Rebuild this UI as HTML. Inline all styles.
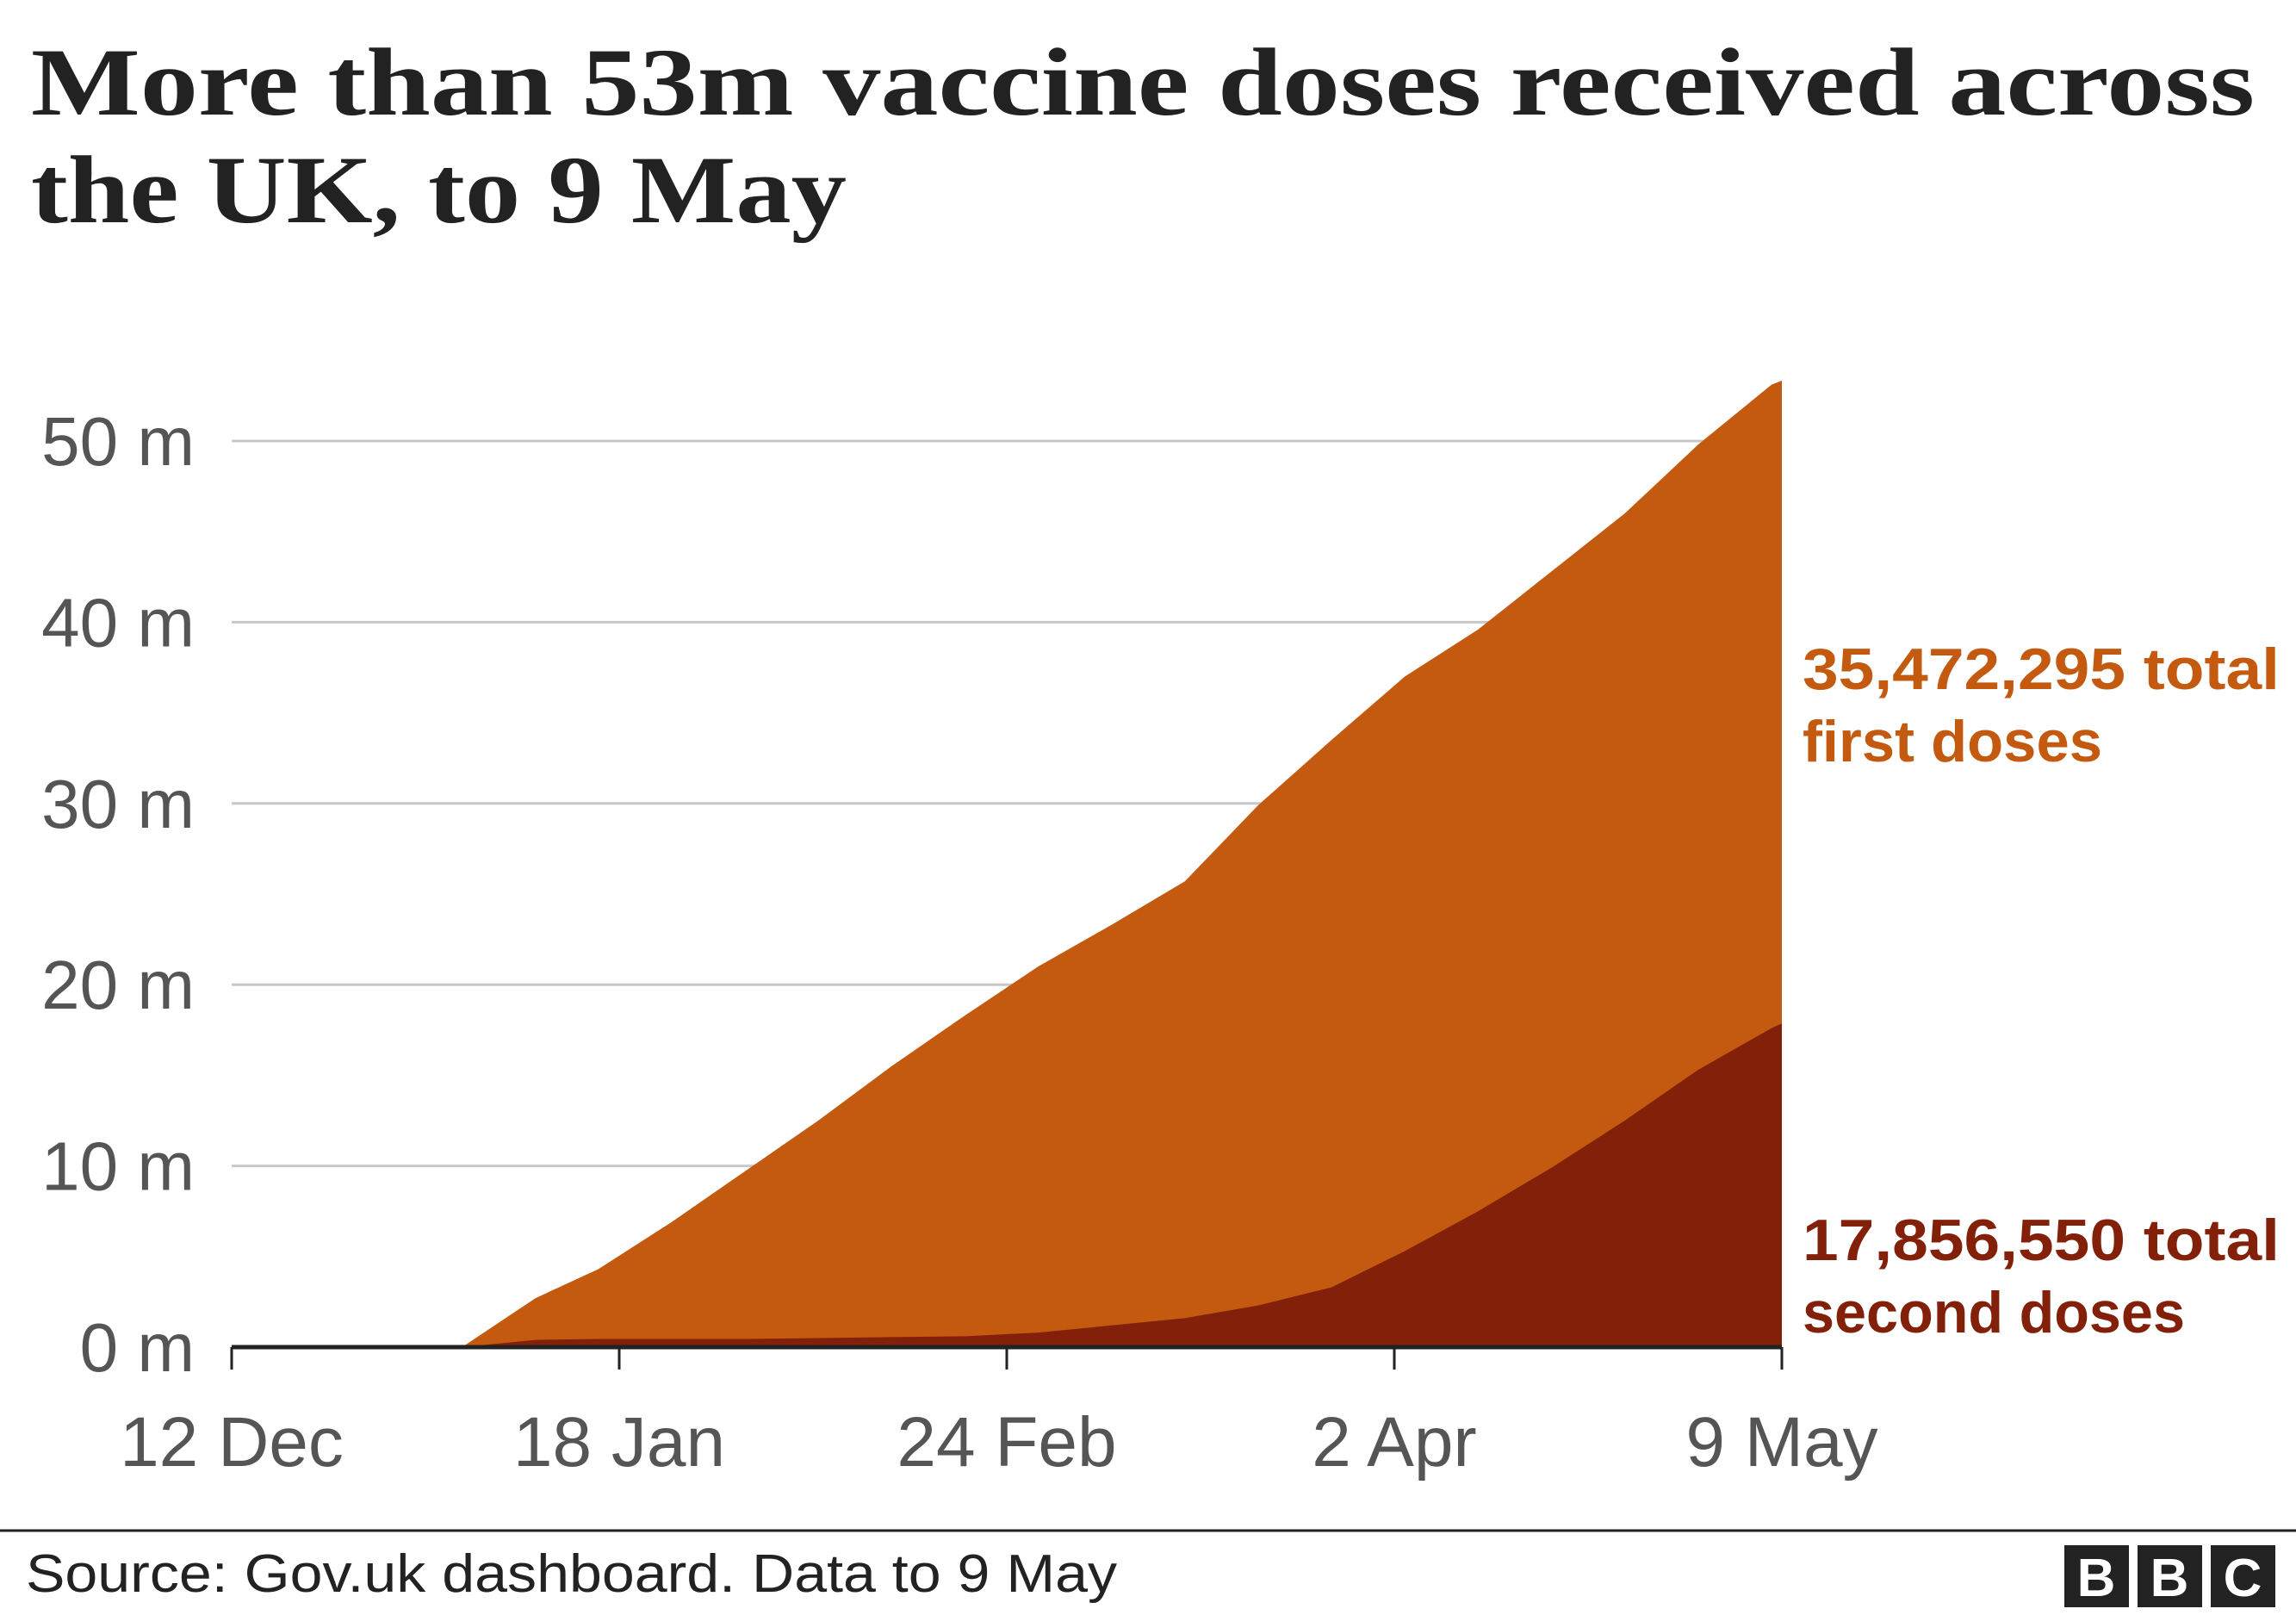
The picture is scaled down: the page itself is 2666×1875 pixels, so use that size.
<!DOCTYPE html>
<html><head><meta charset="utf-8"><style>
body{margin:0;background:#fff;}
svg{display:block;}
</style></head><body>
<svg id="chart" width="2666" height="1875" xmlns="http://www.w3.org/2000/svg">
<text x="36" y="133" font-family="Liberation Serif, serif" font-weight="bold" font-size="112" fill="#222" textLength="2582" lengthAdjust="spacingAndGlyphs">More than 53m vaccine doses received across</text>
<text x="36" y="258" font-family="Liberation Serif, serif" font-weight="bold" font-size="112" fill="#222" textLength="947" lengthAdjust="spacingAndGlyphs">the UK, to 9 May</text>
<g id="grid"></g>
<g id="areas"></g>
<g id="axes"></g>
<text x="2093" y="800" font-family="Liberation Sans, sans-serif" font-weight="bold" font-size="68" fill="#c45a0f" textLength="554" lengthAdjust="spacingAndGlyphs">35,472,295 total</text>
<text x="2093" y="884" font-family="Liberation Sans, sans-serif" font-weight="bold" font-size="68" fill="#c45a0f" textLength="348" lengthAdjust="spacingAndGlyphs">first doses</text>
<text x="2093" y="1463" font-family="Liberation Sans, sans-serif" font-weight="bold" font-size="68" fill="#832009" textLength="554" lengthAdjust="spacingAndGlyphs">17,856,550 total</text>
<text x="2093" y="1547" font-family="Liberation Sans, sans-serif" font-weight="bold" font-size="68" fill="#832009" textLength="444" lengthAdjust="spacingAndGlyphs">second doses</text>
<line x1="0" y1="1777" x2="2666" y2="1777" stroke="#222" stroke-width="3"/>
<text x="30" y="1848" font-family="Liberation Sans, sans-serif" font-size="62" fill="#222" textLength="1267" lengthAdjust="spacingAndGlyphs">Source: Gov.uk dashboard. Data to 9 May</text>
<g font-family="Liberation Sans, sans-serif" font-weight="bold" font-size="62" fill="#fff" text-anchor="middle">
<rect x="2397" y="1794" width="75" height="72" fill="#222"/><text x="2434" y="1853">B</text>
<rect x="2482" y="1794" width="75" height="72" fill="#222"/><text x="2519" y="1853">B</text>
<rect x="2567" y="1794" width="75" height="72" fill="#222"/><text x="2604" y="1853">C</text>
</g>
</svg>
<script>
const days = [0, 22, 29, 35, 42, 49, 56, 63, 70, 77, 84, 91, 98, 105, 112, 119, 126, 133, 140, 147, 148];
const totalDoses = [0, 0, 2.7, 4.3, 6.9, 9.7, 12.5, 15.5, 18.3, 21, 23.3, 25.7, 29.9, 33.5, 37, 39.6, 42.8, 46, 49.8, 53.1, 53.33];
const secondDoses = [0, 0, 0.4, 0.45, 0.45, 0.45, 0.5, 0.55, 0.6, 0.8, 1.2, 1.6, 2.3, 3.3, 5.3, 7.5, 9.9, 12.5, 15.3, 17.6, 17.86];
const yTicks = [0, 10, 20, 30, 40, 50];
const yTickLabels = ["0 m", "10 m", "20 m", "30 m", "40 m", "50 m"];
const xTickDays = [0, 37, 74, 111, 148];
const xTickLabels = ["12 Dec", "18 Jan", "24 Feb", "2 Apr", "9 May"];

const X0 = 269, X1 = 2069, Y0 = 1564, Y50 = 512;
const xs = d => X0 + (X1 - X0) * d / 148;
const ys = v => Y0 - (Y0 - Y50) * v / 50;
const NS = "http://www.w3.org/2000/svg";
function mk(tag, attrs, parent){const e=document.createElementNS(NS,tag);for(const k in attrs)e.setAttribute(k,attrs[k]);parent.appendChild(e);return e;}
const grid=document.getElementById('grid'), areas=document.getElementById('areas'), axes=document.getElementById('axes');

yTicks.forEach((t,i)=>{
  if(t>0){const l=mk('line',{x1:X0,x2:X1,y1:ys(t),y2:ys(t),stroke:'#c8c8c8','stroke-width':3},grid);
  
  }
  const tx=mk('text',{x:226,y:ys(t)+28,'text-anchor':'end','font-family':'Liberation Sans, sans-serif','font-size':80,fill:'#555'},axes);
  tx.textContent=yTickLabels[i];
  
  
});

function areaPath(vals){
  let d='M'+xs(days[0])+','+ys(0);
  days.forEach((dd,i)=>{d+=' L'+xs(dd)+','+ys(vals[i]);});
  d+=' L'+xs(days[days.length-1])+','+ys(0)+' Z';
  return d;
}
const a1=mk('path',{d:areaPath(totalDoses),fill:'#c45a0f'},areas);


const a2=mk('path',{d:areaPath(secondDoses),fill:'#832009'},areas);



const ax=mk('line',{x1:X0,x2:X1,y1:Y0,y2:Y0,stroke:'#222','stroke-width':5},axes);


xTickDays.forEach((d,i)=>{
  const tk=mk('line',{x1:xs(d),x2:xs(d),y1:Y0,y2:Y0+26,stroke:'#222','stroke-width':3},axes);
  
  
  const tx=mk('text',{x:xs(d),y:1702,'text-anchor':'middle','font-family':'Liberation Sans, sans-serif','font-size':82,fill:'#555'},axes);
  tx.textContent=xTickLabels[i];
  
  
});
</script>
</body></html>
